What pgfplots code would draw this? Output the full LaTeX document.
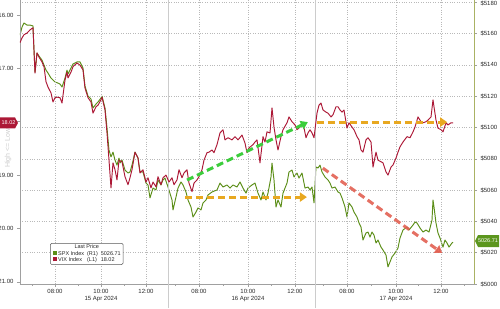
\documentclass[border=0pt]{standalone}
\usepackage{pgfplots}
\pgfplotsset{compat=1.18}
\usepackage{pgfplotstable}
\usepackage{fontspec}
\setmainfont{Liberation Sans}
\usetikzlibrary{arrows.meta}

\definecolor{vixc}{RGB}{172,24,54}
\definecolor{spxc}{RGB}{92,142,24}
\definecolor{spxtag}{RGB}{92,150,30}
\definecolor{arrgreen}{RGB}{60,205,60}
\definecolor{arrorange}{RGB}{232,168,32}
\definecolor{arrred}{RGB}{226,96,82}
\definecolor{lab}{RGB}{40,40,40}
\definecolor{axgray}{RGB}{160,160,160}
\definecolor{axolive}{RGB}{170,178,100}

% VIX index (left axis, inverted); x = position along the three sessions
\pgfplotstableread{
x v
20 16.52
22 16.43
24 16.37
27 16.34
30 16.28
33 16.24
34 16.66
35 17.09
37 16.71
39 16.79
42 16.88
44 16.97
46 17.25
48 17.35
51 17.46
53 17.63
55 17.55
57 17.54
60 17.55
62 17.65
65 17.22
67 17.07
68 17.18
71 17.07
73 16.97
77 16.90
80 16.94
83 17.03
85 17.37
88 17.55
91 17.63
93 17.84
96 17.72
98 17.69
101 17.59
102 17.54
105 17.78
107 18.21
109 18.72
111 19.24
113 18.77
115 18.90
117 19.09
119 18.72
122 18.75
125 19.03
128 19.18
130 19.05
132 18.90
135 18.57
138 18.68
140 18.96
143 18.90
146 19.13
148 19.05
151 19.24
153 19.13
156 19.22
158 19.03
161 19.18
163 19.05
166 19.00
169 19.13
172 19.05
174 19.18
177 19.09
179 18.90
182 19.05
184 18.96
187 18.90
189 19.15
192 19.31
194 19.15
197 19.09
199 19.03
202 18.90
204 18.72
207 18.58
209 18.57
212 18.53
214 18.58
217 18.43
220 18.21
223 18.15
225 18.34
228 18.30
232 18.34
235 18.28
238 18.34
242 18.25
245 18.40
247 18.58
249 18.49
253 18.43
255 18.38
257 18.34
260 18.77
263 18.28
265 18.38
267 18.19
270 18.21
272 17.74
274 18.10
276 18.34
278 18.53
281 18.28
283 18.15
287 18.02
289 17.91
292 18.00
295 18.06
297 18.15
300 18.10
303 18.02
306 18.30
308 18.21
310 18.15
312 18.21
314 18.30
317 17.84
319 17.69
321 17.65
323 17.78
326 17.82
328 17.84
331 17.91
333 17.87
336 17.72
338 17.72
340 17.78
342 17.82
344 17.78
347 18.12
349 18.02
352 18.10
354 18.15
357 18.28
359 18.34
361 18.53
363 18.57
366 18.34
368 18.30
371 18.38
373 18.85
376 18.57
378 18.72
381 18.75
383 18.77
386 18.94
388 19.00
391 18.85
393 18.81
396 18.68
398 18.57
400 18.47
403 18.38
407 18.28
410 18.30
413 18.19
415 18.10
418 17.91
421 18.00
423 18.02
426 18.00
428 17.97
431 17.91
433 17.59
434 17.72
436 17.97
438 18.12
441 18.15
443 18.19
446 18.02
448 18.06
451 18.02
453 18.02
}\vixdata

% SPX index (right axis)
\pgfplotstableread{
x s
20 5159.1
22 5164.2
24 5166.8
27 5165.5
30 5165.5
33 5164.9
34 5149.5
35 5135.5
37 5147.6
39 5145.7
42 5143.1
44 5139.9
46 5136.7
48 5134.8
51 5131.6
53 5130.4
55 5129.1
58 5128.4
60 5127.8
62 5125.9
65 5131.6
67 5136.7
68 5134.2
71 5138.0
73 5140.6
77 5141.9
80 5141.9
83 5138.0
85 5126.5
88 5120.1
91 5118.2
93 5112.5
96 5115.0
98 5116.3
101 5118.9
102 5120.1
105 5112.5
107 5099.7
109 5085.6
111 5081.2
113 5084.3
115 5079.2
117 5076.0
119 5080.5
120 5077.3
122 5079.2
125 5072.8
128 5070.9
130 5071.6
132 5076.0
135 5084.3
138 5080.5
140 5071.6
143 5071.6
146 5064.5
148 5063.3
150 5055.0
153 5061.3
156 5060.1
158 5066.5
161 5063.3
163 5066.5
165 5067.7
168 5062.0
172 5053.7
173 5047.3
176 5055.6
178 5061.3
181 5065.2
183 5063.3
186 5058.8
188 5053.7
191 5049.2
193 5042.8
196 5046.0
198 5048.6
201 5047.3
203 5051.8
206 5053.7
208 5056.9
212 5058.8
217 5060.1
220 5064.5
223 5062.0
227 5063.3
230 5061.3
233 5063.3
237 5062.0
240 5065.2
243 5061.3
246 5058.1
248 5061.3
252 5063.3
255 5064.5
258 5058.1
261 5053.7
263 5058.8
266 5053.7
268 5058.1
271 5068.4
272 5077.3
274 5066.5
276 5049.2
278 5053.7
281 5049.2
283 5058.1
287 5064.5
289 5071.6
292 5072.8
294 5068.4
297 5070.9
299 5067.7
302 5070.9
305 5061.3
308 5062.0
310 5060.1
312 5062.0
314 5051.8
316 5074.8
318 5074.1
320 5076.0
322 5071.6
325 5068.4
328 5066.5
330 5064.5
332 5061.3
335 5062.0
338 5058.8
340 5058.1
342 5055.0
345 5049.2
347 5042.8
349 5051.8
352 5049.2
354 5046.0
357 5042.8
359 5039.0
361 5036.4
363 5028.1
366 5032.6
368 5033.2
370 5030.0
372 5033.2
374 5031.3
376 5026.2
378 5028.1
381 5023.6
383 5021.7
386 5018.5
388 5010.9
390 5014.1
392 5017.3
395 5019.8
398 5023.0
400 5029.4
403 5034.5
407 5036.4
409 5034.5
413 5037.7
415 5039.6
417 5039.0
420 5035.8
423 5033.2
426 5034.5
429 5033.2
432 5040.9
433 5053.7
434 5049.2
436 5039.0
438 5032.6
440 5029.4
443 5023.6
445 5028.1
447 5026.2
449 5023.6
452 5026.2
453 5026.71
}\spxdata

\pgfplotsset{
  common/.style={
    at={(0,0)}, anchor=south west,
    scale only axis, width=454pt, height=284pt,
    xmin=20, xmax=474,
    tick align=outside,
    major tick length=3pt, minor tick length=2pt,
    tick style={axgray, line width=0.5pt},
    ticklabel style={font=\fontsize{6}{7}\selectfont, text=lab},
    /pgf/number format/assume math mode=true,
    grid style={dotted, gray!55, line width=0.6pt},
    every outer x axis line/.append style={-},
    every outer y axis line/.append style={-},
  },
}

\begin{document}
\begin{tikzpicture}
\useasboundingbox (-20pt,-24pt) rectangle (480pt,284pt);

% SPX on right axis
\begin{axis}[common,
  ymin=5000, ymax=5181.5,
  axis y line*=right, axis x line=none,
  y axis line style={axolive, line width=0.7pt, -},
  ytick={5000,5020,...,5180},
  ymajorgrids,
  yticklabels={\$5000,\$5020,\$5040,\$5060,\$5080,\$5100,\$5120,\$5140,\$5160,\raisebox{-6pt}{\$5180}},
]
\addplot[spxc, line width=0.95pt, line join=round] table[x=x, y=s] {\spxdata};
\end{axis}

% VIX on left axis (inverted)
\begin{axis}[common,
  ymin=15.72, ymax=21.04, y dir=reverse,
  axis y line*=left, axis x line*=bottom,
  axis line style={axgray, line width=0.7pt, -},
  ytick={16,17,...,21},
  yticklabels={16.00,17.00,,19.00,20.00,21.00},
  xtick={55,101,146,199,248,295,347,396,441},
  xticklabels={08:00,{10:00\\15 Apr 2024},12:00,08:00,{10:00\\16 Apr 2024},12:00,08:00,{10:00\\17 Apr 2024},12:00},
  xticklabel style={align=center, font=\fontsize{6}{6.8}\selectfont, yshift=1pt},
  minor xtick={32,78,124,175,223,271,323,371,418,464},
  xmajorgrids,
  extra x ticks={168,315},
  extra x tick labels={},
  extra x tick style={major tick length=24pt, tick style={gray!40, line width=0.7pt}, grid=major, major grid style={solid, gray!40, line width=0.7pt}},
]
\addplot[vixc, line width=0.95pt, line join=round] table[x=x, y=v] {\vixdata};

\draw[arrgreen, line width=3pt, dash pattern=on 7pt off 4pt, -{Triangle[length=7pt,width=9pt]}]
  (rel axis cs:0.368,0.366) -- (rel axis cs:0.634,0.570);
\draw[arrorange, line width=3pt, dash pattern=on 7pt off 4pt, -{Triangle[length=7pt,width=9pt]}]
  (rel axis cs:0.363,0.306) -- (rel axis cs:0.632,0.306);
\draw[arrorange, line width=3pt, dash pattern=on 7pt off 4pt, -{Triangle[length=7pt,width=9pt]}]
  (rel axis cs:0.654,0.570) -- (rel axis cs:0.941,0.570);
\draw[arrred, opacity=0.9, line width=3pt, dash pattern=on 7pt off 4pt, -{Triangle[length=7pt,width=9pt]}]
  (rel axis cs:0.667,0.408) -- (rel axis cs:0.930,0.109);
\end{axis}

% inverted-axis hint
\node[rotate=90, text=gray!40, font=\fontsize{7}{8}\selectfont] at (-12pt,136pt) {High <= Low};

% last value tags
\fill[vixc] (-20pt,155.5pt) -- (-5pt,155.5pt) -- (-2pt,161pt) -- (-5pt,166.5pt) -- (-20pt,166.5pt) -- cycle;
\node[text=white, font=\fontsize{5.5}{6}\selectfont] at (-11.5pt,161pt) {18.02};
\fill[spxtag] (455pt,43pt) -- (458pt,49pt) -- (479pt,49pt) -- (479pt,37pt) -- (458pt,37pt) -- cycle;
\node[text=white, font=\fontsize{5.5}{6}\selectfont] at (468pt,43pt) {5026.71};

% legend
\node[draw=gray!70!black, line width=0.5pt, fill=white, rounded corners=1.5pt, inner xsep=2.5pt, inner ysep=1.5pt, anchor=north west, font=\fontsize{5.5}{6.5}\selectfont, text=lab] at (30pt,41pt) {%
  \renewcommand{\arraystretch}{0.9}%
  \begin{tabular}{@{}l@{\hspace{3pt}}l@{\hspace{3pt}}l@{}}
  \multicolumn{3}{c}{Last Price}\\
  \textcolor{spxc}{\rule{4.5pt}{4.5pt}}\,SPX Index & (R1) & 5026.71\\
  \textcolor{vixc}{\rule{4.5pt}{4.5pt}}\,VIX Index & (L1) & 18.02
  \end{tabular}};
\end{tikzpicture}
\end{document}
